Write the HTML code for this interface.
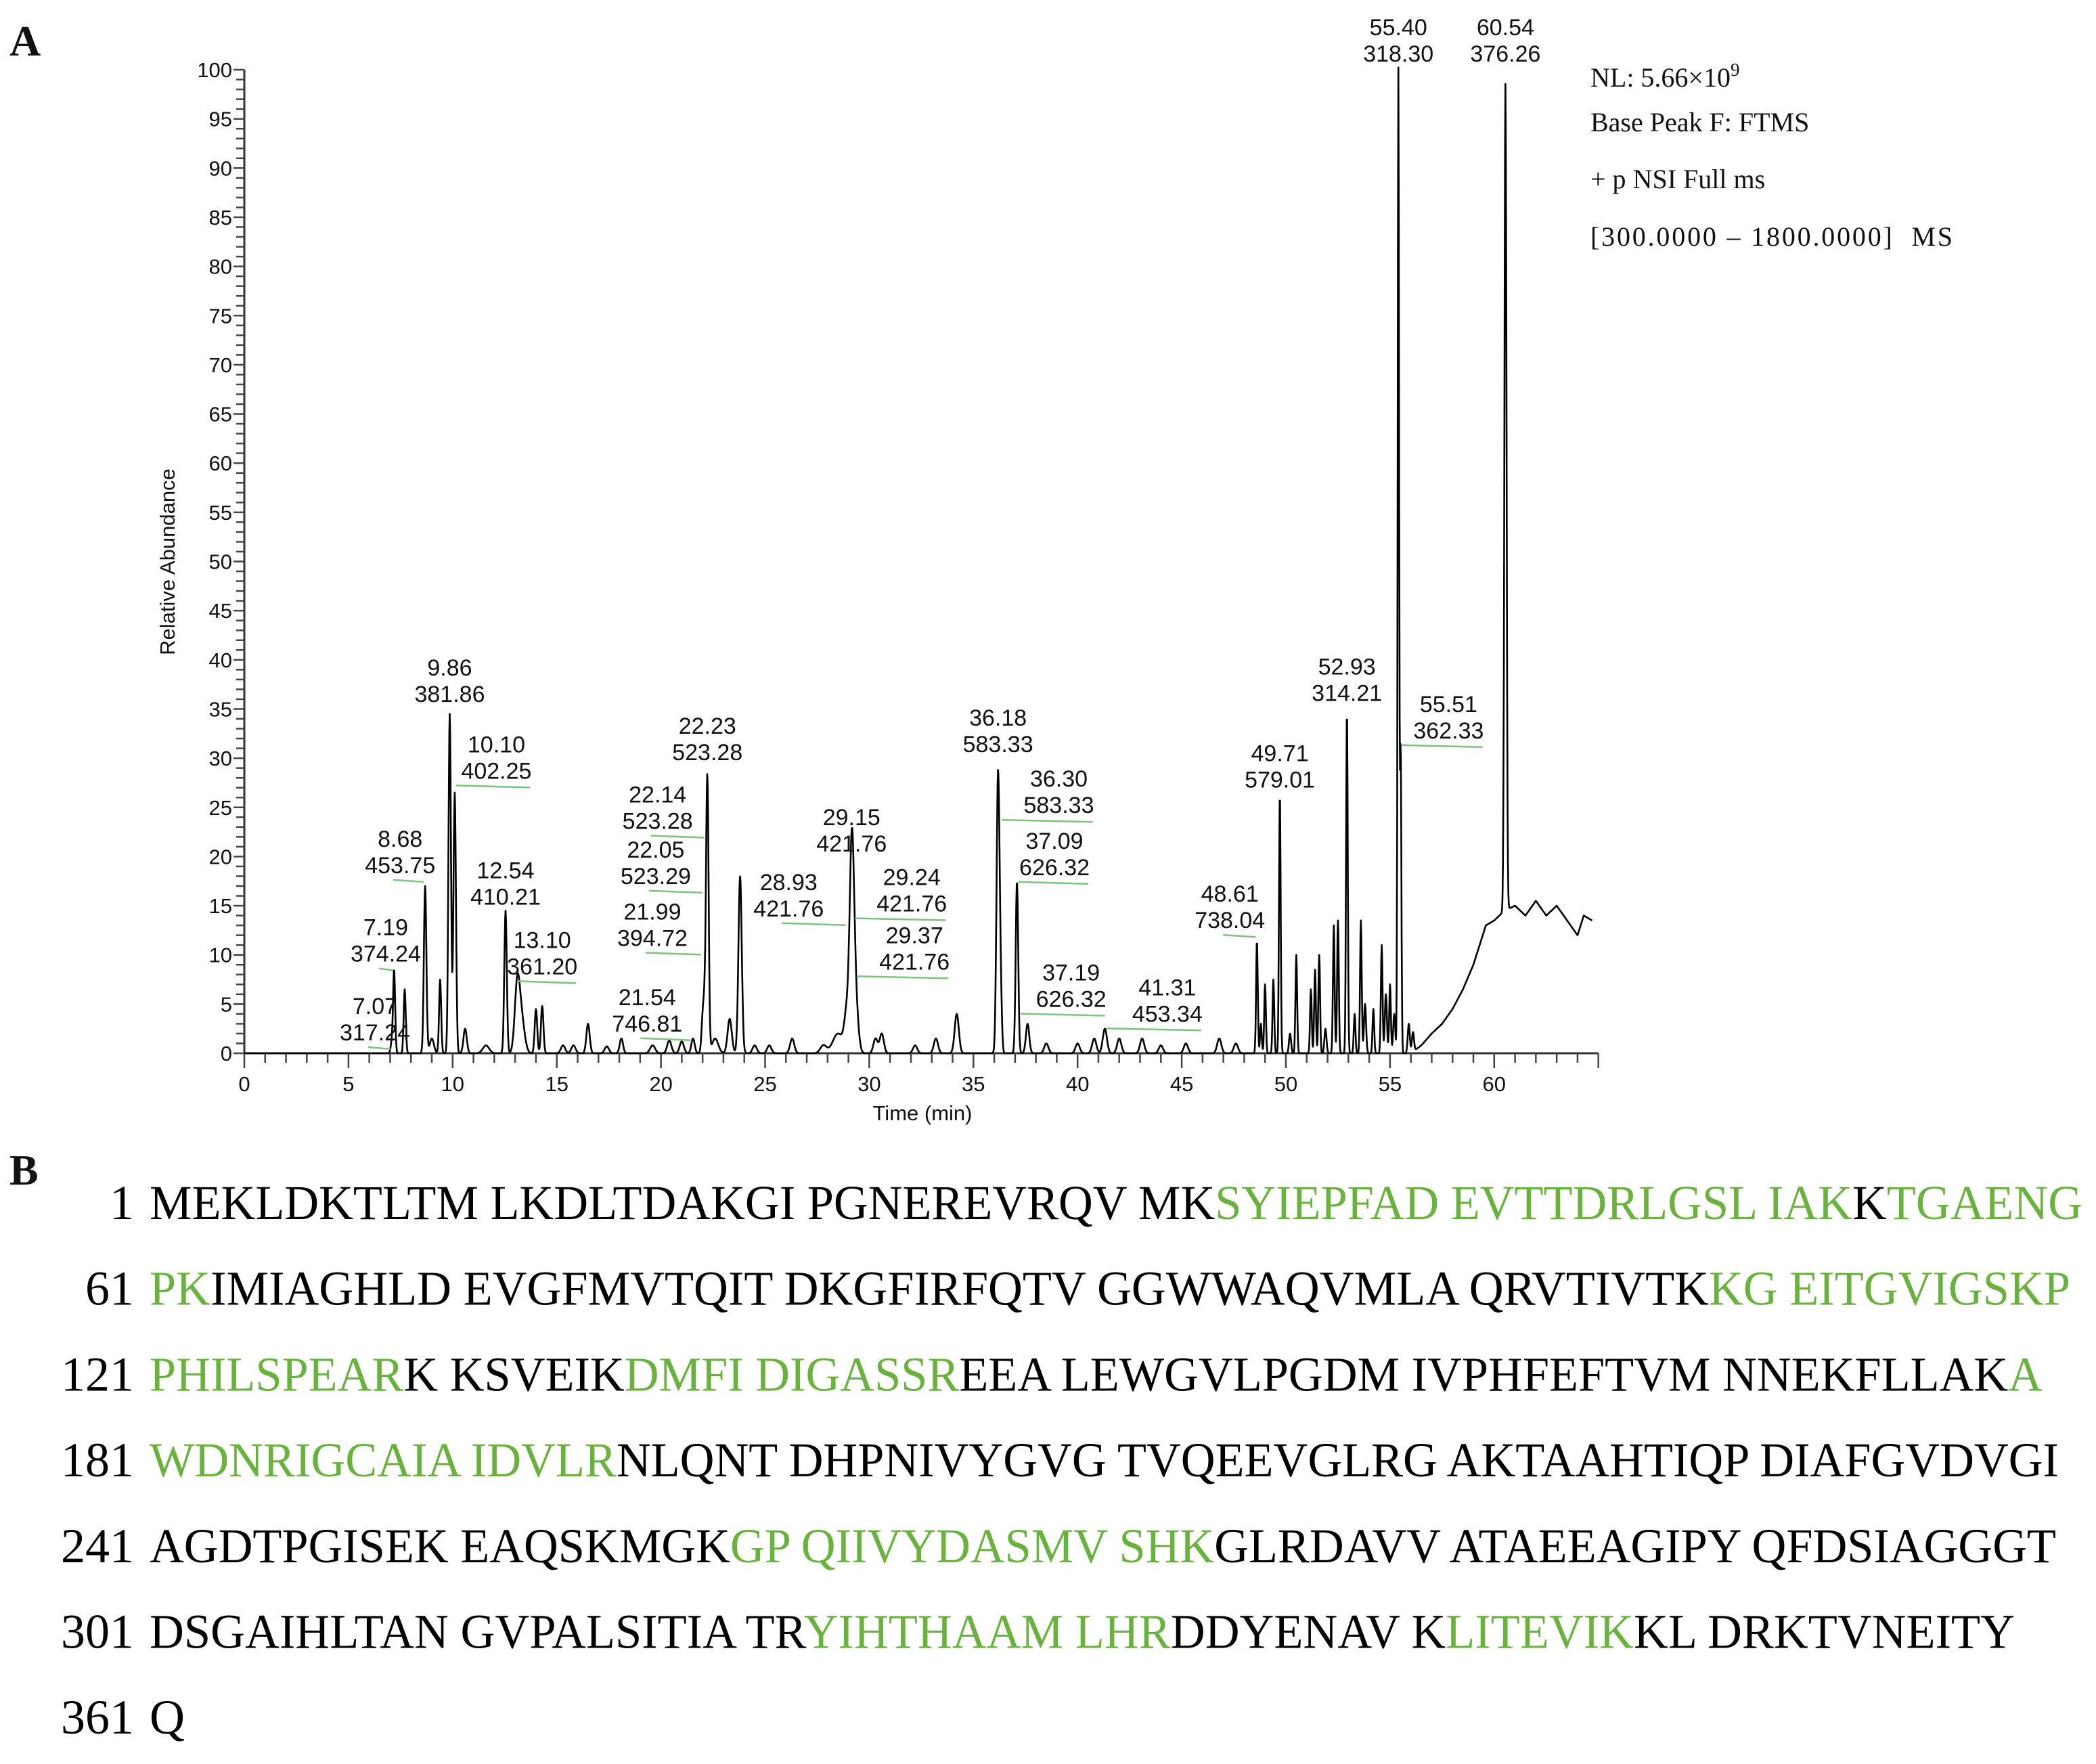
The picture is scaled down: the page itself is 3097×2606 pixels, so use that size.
<!DOCTYPE html>
<html><head><meta charset="utf-8"><style>
html,body{margin:0;padding:0;background:#fff;}
svg{display:block;}
.ax{font-family:"Liberation Sans",Arial,sans-serif;font-size:31px;fill:#111;}
.lb{font-family:"Liberation Sans",Arial,sans-serif;font-size:34px;fill:#111;}
.sr{font-family:"Liberation Serif","Times New Roman",serif;fill:#111;}
.sq{font-family:"Liberation Serif","Times New Roman",serif;font-size:72px;fill:#000;}
.g{fill:#6ab23e;}
</style></head><body>
<svg id="fig" width="3097" height="2606" viewBox="0 0 3097 2606" xmlns="http://www.w3.org/2000/svg">
<text x="14" y="82" class="sr" font-size="64" font-weight="bold">A</text>
<text x="14" y="1750" class="sr" font-size="64" font-weight="bold">B</text>
<g id="chart"></g>
<g>
<text x="2350" y="128" class="sr" font-size="40">NL: 5.66×10<tspan font-size="27" dy="-16">9</tspan></text>
<text x="2350" y="194" class="sr" font-size="40">Base Peak F: FTMS</text>
<text x="2350" y="278" class="sr" font-size="40">+ p NSI Full ms</text>
<text x="2350" y="363" class="sr" font-size="40" textLength="535" lengthAdjust="spacing" xml:space="preserve">[300.0000 – 1800.0000]  MS</text>
</g>
<g id="seq"></g>
</svg>
<script>
const peakTimes=[7.07,7.19,7.7,8.68,9.0,9.4,9.86,10.1,10.6,11.6,12.54,13.1,13.3,14.0,14.3,15.3,15.8,16.5,17.4,18.1,19.6,20.4,21.0,21.54,21.99,22.05,22.14,22.23,22.6,23.3,23.8,24.5,25.2,26.3,27.8,28.5,28.93,29.15,29.24,29.37,30.3,30.6,32.2,33.2,34.2,36.18,36.3,37.09,37.6,38.5,40.0,40.8,41.31,42.0,43.1,44.0,45.2,46.8,47.6,48.61,48.8,49.0,49.4,49.71,50.2,50.5,51.2,51.4,51.6,51.9,52.3,52.5,52.93,53.3,53.6,53.8,54.2,54.6,54.8,55.0,55.2,55.4,55.51,55.9,56.1,60.54];
const peakHeights=[1,8.5,6.5,17,1.5,7.5,34.5,26.5,2.5,0.8,14.5,6.5,3.5,4.5,4.8,0.8,0.8,3,0.7,1.5,0.8,1.3,1.2,1.5,2,3,4,27,1.5,3.5,18,0.8,0.8,1.5,0.8,2,4,17,6,4,1.5,2,0.8,1.5,4,28,6,17.5,3,1,1,1.5,2.5,1.5,1.5,0.8,1,1.5,1,11.5,3,7,7.5,26.5,2,10,6.5,8.5,10,2.5,13,13.5,35,4,13.5,5,4.5,11,6,7,4,100,31,3,2,84];
const peakWidths=[0.05,0.05,0.05,0.06,0.1,0.05,0.06,0.06,0.08,0.15,0.06,0.12,0.15,0.06,0.06,0.1,0.1,0.08,0.1,0.08,0.12,0.1,0.1,0.08,0.06,0.06,0.06,0.06,0.15,0.1,0.08,0.1,0.1,0.1,0.15,0.25,0.12,0.1,0.1,0.12,0.1,0.1,0.1,0.1,0.1,0.07,0.06,0.06,0.08,0.1,0.1,0.1,0.1,0.1,0.1,0.1,0.1,0.1,0.1,0.04,0.04,0.04,0.04,0.04,0.05,0.04,0.04,0.04,0.04,0.05,0.04,0.04,0.04,0.04,0.04,0.05,0.04,0.04,0.05,0.04,0.05,0.035,0.035,0.05,0.05,0.05];
const bgTimes=[0,56,56.5,57,57.5,58,58.5,59,59.3,59.6,60,60.5,61,61.5,62,62.5,63,63.5,64,64.3,64.7];
const bgLevels=[0,0,0.8,2,3,4.5,6.5,9,11,13,13.5,14.5,15,14,15.5,14,15,13.5,12,14,13.5];
const labelTimes=["7.07","7.19","8.68","9.86","10.10","12.54","13.10","21.54","21.99","22.05","22.14","22.23","28.93","29.15","29.24","29.37","36.18","36.30","37.09","37.19","41.31","48.61","49.71","52.93","55.40","55.51","60.54"];
const labelMz=["317.24","374.24","453.75","381.86","402.25","410.21","361.20","746.81","394.72","523.29","523.28","523.28","421.76","421.76","421.76","421.76","583.33","583.33","626.32","626.32","453.34","738.04","579.01","314.21","318.30","362.33","376.26"];
const labelLevels=[4,12,21,38.4,30.6,17.8,10.7,4.9,13.6,19.9,25.5,32.5,16.6,23.2,17.1,11.2,33.3,27.1,20.8,7.4,5.9,15.4,29.7,38.5,103.5,34.7,103.5];
const labelOffsets=[-0.8,-0.4,-1.2,0,2,0,1.2,-2.2,-2.4,-2.3,-2.3,0,-2.8,0,2.8,2.8,0,2.8,1.8,2.5,3,-1.3,0,0,0,2.3,0];
const yTicks=[0,5,10,15,20,25,30,35,40,45,50,55,60,65,70,75,80,85,90,95,100];
const xTicks=[0,5,10,15,20,25,30,35,40,45,50,55,60];

const NS="http://www.w3.org/2000/svg";
const X0=361,PX=30.78,Y0=1556,PY=14.53;
const X=t=>X0+t*PX, Y=v=>Y0-v*PY;
const chart=document.getElementById('chart');
function mk(tag,attrs,parent){const e=document.createElementNS(NS,tag);for(const k in attrs)e.setAttribute(k,attrs[k]);(parent||chart).appendChild(e);return e;}
let e=mk('line',{x1:X0,y1:Y(100),x2:X0,y2:Y0,stroke:'#333','stroke-width':3});


e=mk('line',{x1:X0,y1:Y0,x2:X(65),y2:Y0,stroke:'#333','stroke-width':3});


for(let v=0;v<=100;v++){mk('line',{x1:X0-(v%5?12:16),y1:Y(v),x2:X0,y2:Y(v),stroke:'#444','stroke-width':2.5});}
for(let t=0;t<=65;t++){mk('line',{x1:X(t),y1:Y0,x2:X(t),y2:Y0+(t%5?14:22),stroke:'#444','stroke-width':2.5});}
yTicks.forEach(v=>{const t=mk('text',{x:X0-18,y:Y(v)+11,'text-anchor':'end',class:'ax'});t.textContent=v;

});
xTicks.forEach(v=>{const t=mk('text',{x:X(v),y:Y0+56,'text-anchor':'middle',class:'ax'});t.textContent=v;

});
e=mk('text',{x:1363,y:1655,'text-anchor':'middle',class:'ax'});e.textContent='Time (min)';


e=mk('text',{x:258,y:830,'text-anchor':'middle',class:'ax',transform:'rotate(-90 258 830)'});e.textContent='Relative Abundance';


function bg(t){for(let i=1;i<bgTimes.length;i++){if(t<=bgTimes[i]){const a=bgTimes[i-1],b=bgTimes[i];return bgLevels[i-1]+(bgLevels[i]-bgLevels[i-1])*(t-a)/(b-a);}}return bgLevels[bgLevels.length-1];}
let d='';
for(let i=0;i<=3235;i++){const t=i*0.02;let v=bg(t);for(let k=0;k<peakTimes.length;k++){const z=(t-peakTimes[k])/peakWidths[k];if(Math.abs(z)<6)v+=peakHeights[k]*Math.exp(-0.5*z*z);}
d+=(i?'L':'M')+X(t).toFixed(1)+' '+Y(v).toFixed(1);}
e=mk('path',{d:d,fill:'none',stroke:'#000','stroke-width':2.6,'stroke-linejoin':'round'});


labelTimes.forEach((lt,i)=>{const pt=parseFloat(lt);const cx=X(pt+labelOffsets[i]);const top=Y(labelLevels[i]);
const g=mk('g',{});


const a=mk('text',{x:cx,y:top,'text-anchor':'middle',class:'lb'},g);a.textContent=lt;
const b=mk('text',{x:cx,y:top+39,'text-anchor':'middle',class:'lb'},g);b.textContent=labelMz[i];
if(labelOffsets[i]!==0){const ly=top+52;const x2=X(pt);
mk('line',{x1:labelOffsets[i]<0?cx-10:x2+2,y1:ly-3,x2:labelOffsets[i]<0?x2-2:cx+50,y2:ly,stroke:'#7cc47c','stroke-width':2.5},g);}
});
const seqNums=["1","61","121","181","241","301","361"];
const seqLines=[
[["MEKLDKTLTM LKDLTDAKGI PGNEREVRQV MK",0],["SYIEPFAD EVTTDRLGSL IAK",1],["K",0],["TGAENG",1]],
[["PK",1],["IMIAGHLD EVGFMVTQIT DKGFIRFQTV GGWWAQVMLA QRVTIVTK",0],["KG EITGVIGSKP",1]],
[["PHILSPEAR",1],["K KSVEIK",0],["DMFI DIGASSR",1],["EEA LEWGVLPGDM IVPHFEFTVM NNEKFLLAK",0],["A",1]],
[["WDNRIGCAIA IDVLR",1],["NLQNT DHPNIVYGVG TVQEEVGLRG AKTAAHTIQP DIAFGVDVGI",0]],
[["AGDTPGISEK EAQSKMGK",0],["GP QIIVYDASMV SHK",1],["GLRDAVV ATAEEAGIPY QFDSIAGGGT",0]],
[["DSGAIHLTAN GVPALSITIA TR",0],["YIHTHAAM LHR",1],["DDYENAV K",0],["LITEVIK",1],["KL DRKTVNEITY",0]],
[["Q",0]]];
const seqEnds=[3077,3059,3018,3042,3038,2977,0];
const seqG=document.getElementById('seq');
seqLines.forEach((ln,i)=>{const y=1801+i*126.7;
const n=mk('text',{x:198,y:y,'text-anchor':'end',class:'sq'},seqG);n.textContent=seqNums[i];


const attrs={x:221,y:y,class:'sq','xml:space':'preserve'};
if(seqEnds[i]){attrs.textLength=seqEnds[i]-221;attrs.lengthAdjust='spacingAndGlyphs';}
const t=mk('text',attrs,seqG);


ln.forEach(s=>{const sp=mk('tspan',s[1]?{class:'g'}:{},t);sp.textContent=s[0];});
});
</script>
</body></html>
